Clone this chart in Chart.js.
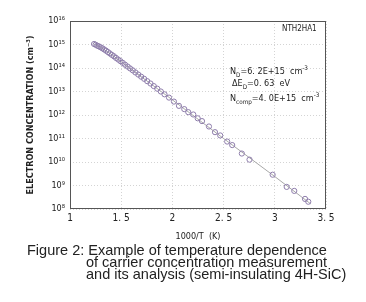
<!DOCTYPE html>
<html>
<head>
<meta charset="utf-8">
<script src="https://cdn.jsdelivr.net/npm/chart.js@4.4.1/dist/chart.umd.min.js"></script>
<style>
  body { margin: 0; background: #fff; }
  #wrap { position: relative; width: 366px; height: 302px; }
  #caption {
    position: absolute; left: 27px; top: 244px;
    font-family: "Liberation Sans", Arial, sans-serif; font-size: 14.5px; line-height: 12px;
    color: #222;
  }
  #caption div.ind { padding-left: 59px; }
</style>
</head>
<body>
<div id="wrap">
  <canvas id="cc" width="366" height="302"></canvas>
  <div id="caption">
    <div>Figure 2: Example of temperature dependence</div>
    <div class="ind">of carrier concentration measurement</div>
    <div class="ind">and its analysis (semi-insulating 4H-SiC)</div>
  </div>
</div>
<script>
// measured points: 1000/T and electron concentration (cm-3)
var invT = [1.235, 1.250, 1.266, 1.282, 1.299, 1.316, 1.333, 1.351, 1.370, 1.389,
            1.408, 1.429, 1.449, 1.471, 1.493, 1.515, 1.538, 1.563, 1.587, 1.613,
            1.639, 1.667, 1.695, 1.724, 1.754, 1.786, 1.818, 1.852, 1.887, 1.923,
            1.967, 2.015, 2.064, 2.116, 2.155, 2.204, 2.247, 2.289, 2.357, 2.416,
            2.467, 2.535, 2.584, 2.678, 2.753, 2.979, 3.116, 3.190, 3.295, 3.327];
var conc = [1.05e15, 9.77e14, 8.91e14, 8.32e14, 7.59e14, 6.92e14, 6.17e14, 5.50e14, 4.79e14, 4.17e14,
            3.63e14, 3.16e14, 2.69e14, 2.29e14, 1.95e14, 1.66e14, 1.38e14, 1.15e14, 9.55e13, 7.94e13,
            6.46e13, 5.25e13, 4.27e13, 3.47e13, 2.75e13, 2.19e13, 1.70e13, 1.32e13, 1.00e13, 7.59e12,
            5.50e12, 3.72e12, 2.45e12, 1.78e12, 1.32e12, 1.05e12, 7.24e11, 5.50e11, 3.24e11, 1.86e11,
            1.35e11, 7.41e10, 5.25e10, 2.29e10, 1.26e10, 2.88e9, 8.71e8, 5.89e8, 2.69e8, 2.04e8];

// fitted curve
var fitInvT = [1.23, 1.30, 1.40, 1.60, 2.00, 2.50, 3.00, 3.35];
var fitConc = [1.07e15, 7.6e14, 3.9e14, 8.7e13, 4.4e12, 1.0e11, 2.4e9, 1.66e8];

var xTickLabels = ['1', '1. 5', '2', '2. 5', '3', '3. 5'];
var yTickLabels = ['10⁸', '10⁹', '10¹⁰', '10¹¹', '10¹²', '10¹³', '10¹⁴', '10¹⁵', '10¹⁶'];

var pts = [];
for (var i in invT) pts.push({x: invT[i], y: conc[i]});
var fit = [];
for (var j in fitInvT) fit.push({x: fitInvT[j], y: fitConc[j]});

var FONT = '"DejaVu Sans Condensed", "DejaVu Sans", sans-serif';

// text with sub / superscripts
function rich(ctx, x, y, parts, size) {
  for (var k = 0; k < parts.length; k++) {
    var t = parts[k][0], kind = parts[k][1];
    var s = kind ? size * 0.7 : size;
    var dy = kind == 'sub' ? size * 0.35 : (kind == 'sup' ? -size * 0.45 : 0);
    ctx.font = s + 'px ' + FONT;
    ctx.fillText(t, x, y + dy);
    x += ctx.measureText(t).width;
  }
}

var extras = {
  id: 'extras',
  afterDraw: function(chart) {
    var ctx = chart.ctx, a = chart.chartArea;
    ctx.save();
    ctx.strokeStyle = '#555';
    ctx.lineWidth = 1;
    ctx.strokeRect(a.left + 0.5, a.top + 0.5, a.right - a.left - 1, a.bottom - a.top - 1);
    ctx.fillStyle = '#222';
    ctx.textBaseline = 'middle';
    ctx.textAlign = 'left';
    rich(ctx, 282, 29, [['NTH2HA1']], 8);
    rich(ctx, 230, 72, [['N'], ['D', 'sub'], ['=6. 2E+15  cm'], ['-3', 'sup']], 9);
    rich(ctx, 232, 84, [['ΔE'], ['D', 'sub'], ['=0. 63  eV']], 9);
    rich(ctx, 230, 99, [['N'], ['comp', 'sub'], ['=4. 0E+15  cm'], ['-3', 'sup']], 9);
    ctx.restore();
  }
};

var LineGraph = new Chart(document.getElementById('cc'), {
  type: 'scatter',
  data: {
    datasets: [
      {
        label: 'fit',
        data: fit,
        showLine: true,
        borderColor: '#a8a8a8',
        borderWidth: 1,
        pointRadius: 0,
        order: 2
      },
      {
        label: 'measured',
        data: pts,
        pointStyle: 'circle',
        pointRadius: 2.6,
        borderWidth: 1,
        borderColor: '#8e7dab',
        backgroundColor: 'rgba(255,255,255,0)',
        order: 1
      }
    ]
  },
  options: {
    responsive: false,
    animation: false,
    layout: { padding: { left: 0, right: 40, top: 21, bottom: 63 } },
    plugins: { legend: { display: false }, tooltip: { enabled: false } },
    scales: {
      x: {
        type: 'linear', min: 1, max: 3.5,
        afterFit: function(s) { s.height = 30; },
        ticks: {
          stepSize: 0.5, maxRotation: 0, padding: 3, color: '#222',
          font: { family: FONT, size: 10 },
          callback: function(v) { return xTickLabels[Math.round((v - 1) * 2)]; }
        },
        grid: { color: '#d4d4d4', drawTicks: false },
        border: { display: false, dash: [1, 2] },
        title: { display: true, text: '1000/T  (K)', color: '#222', font: { family: FONT, size: 9 }, padding: { top: 0, bottom: -3 } }
      },
      y: {
        type: 'logarithmic', min: 1e8, max: 1e16,
        afterFit: function(s) { s.width = 70; },
        afterBuildTicks: function(s) {
          s.ticks = s.ticks.filter(function(t) {
            var e = Math.log10(t.value);
            return Math.abs(e - Math.round(e)) < 1e-6;
          });
        },
        ticks: {
          padding: 5, color: '#222',
          font: { family: FONT, size: 9 },
          callback: function(v) { return yTickLabels[Math.round(Math.log10(v)) - 8]; }
        },
        grid: { color: '#d4d4d4', drawTicks: false },
        border: { display: false, dash: [1, 2] },
        title: { display: true, text: 'ELECTRON CONCENTRATION (cm⁻³)', color: '#222', font: { family: FONT, size: 9, weight: 'bold' }, padding: { top: 25 } }
      }
    }
  },
  plugins: [extras]
});
</script>
</body>
</html>
